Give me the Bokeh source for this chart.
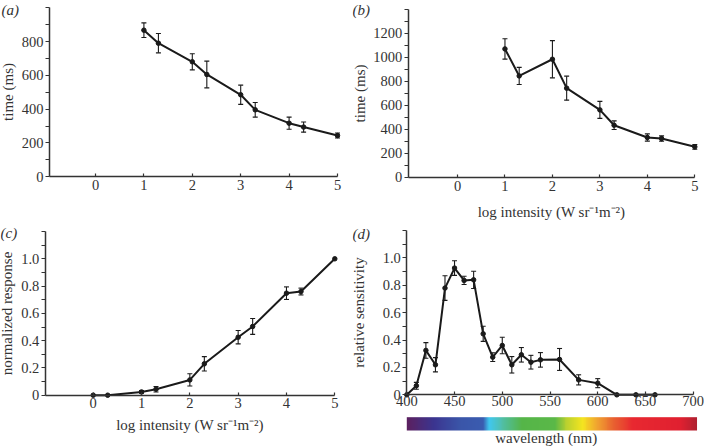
import numpy as np
from bokeh.plotting import figure
from bokeh.layouts import column, row
from bokeh.models import (FixedTicker, Whisker, TeeHead, ColumnDataSource, Range1d,
                          CustomJSTickFormatter)
from bokeh.embed import file_html
from bokeh.resources import INLINE
from bokeh.core.properties import value

# ---------------- data ----------------
int_ab = [1, 1.3, 2, 2.3, 3, 3.3, 4, 4.3, 5]
time_a = [867, 790, 680, 605, 485, 396, 317, 294, 244]
err_a = [43, 57, 48, 79, 57, 43, 36, 30, 15]
time_b = [1069, 844, 983, 742, 561, 433, 331, 322, 253]
err_b = [85, 71, 155, 100, 71, 36, 30, 22, 20]

int_c = [0, 0.3, 1, 1.3, 2, 2.3, 3, 3.3, 4, 4.3, 5]
resp_c = [0, 0, 0.024, 0.044, 0.112, 0.23, 0.425, 0.504, 0.748, 0.76, 1.0]
err_c = [0, 0, 0.01, 0.02, 0.045, 0.053, 0.049, 0.058, 0.046, 0.025, 0]

wl_d = [400, 410, 420, 430, 440, 450, 460, 470, 480, 490, 500, 510, 520, 530,
        540, 560, 580, 600, 620, 640, 660]
sens_d = [0, 0.066, 0.324, 0.219, 0.779, 0.925, 0.835, 0.839, 0.445, 0.275,
          0.36, 0.219, 0.292, 0.238, 0.255, 0.258, 0.109, 0.085, 0, 0, 0]
err_d = [0, 0.025, 0.057, 0.052, 0.09, 0.053, 0.03, 0.063, 0.055, 0.032,
         0.06, 0.06, 0.053, 0.05, 0.053, 0.08, 0.037, 0.033, 0, 0, 0]

xticks_int = [0, 1, 2, 3, 4, 5]
xticks_wl = [400, 450, 500, 550, 600, 650, 700]
yticks_a = [0, 200, 400, 600, 800]
yminor_a = [100, 300, 500, 700, 900, 1000]
yticks_b = [0, 200, 400, 600, 800, 1000, 1200]
yminor_b = [100, 300, 500, 700, 900, 1100, 1300, 1400]
yticks_frac = [0, 0.2, 0.4, 0.6, 0.8, 1.0]
yminor_frac = [0.1, 0.3, 0.5, 0.7, 0.9, 1.1, 1.2]

# spectrum colour bar stops
spec_nm = [400, 428, 455, 480, 486, 498, 520, 555, 567, 584, 600, 617, 637, 687, 704]
spec_col = ["#5c2060", "#3b3590", "#3a55a8", "#3a5cb0", "#40c8f0", "#50c0b0",
            "#55b548", "#5ab848", "#b8d030", "#f5e520", "#f0a030", "#e86030",
            "#e82830", "#e02030", "#b02030"]

FONT = "Liberation Serif"
INK = "#1a1a1a"
AX = "#333333"
XLAB = "log intensity (W sr\u207b\u00b9m\u207b\u00b2)"


class Map:
    """pixel <-> data mapping for a figure whose frame fills the whole canvas"""
    def __init__(self, w, h, xp0, xv0, xp1, xv1, yp0, yv0, yp1, yv1):
        self.sx = (xv1 - xv0) / (xp1 - xp0)
        self.xv0, self.xp0 = xv0, xp0
        self.sy = (yv1 - yv0) / (yp0 - yp1)
        self.yv0, self.yp0 = yv0, yp0
        self.w, self.h = w, h

    def x(self, px):
        return self.xv0 + (px - self.xp0) * self.sx

    def y(self, py):
        return self.yv0 + (self.yp0 - py) * self.sy

    def xr(self):
        return Range1d(self.x(0), self.x(self.w))

    def yr(self):
        return Range1d(self.y(self.h), self.y(0))


def make_panel(m, x, y, err, xbounds, ybounds, xticks, yticks, yminor, ylabel, xlabel,
               ylab_stand, xlab_stand, xtick_stand, tag, tag_px, tag_py, frac=False):
    p = figure(width=m.w, height=m.h, x_range=m.xr(), y_range=m.yr(),
               output_backend="svg", toolbar_location=None,
               min_border_left=0, min_border_right=0, min_border_top=0,
               min_border_bottom=0)
    p.outline_line_color = None
    p.grid.visible = False
    p.background_fill_color = "white"
    p.border_fill_color = "white"

    ya = p.yaxis[0]
    ya.fixed_location = xbounds[0]
    ya.ticker = FixedTicker(ticks=yticks, minor_ticks=yminor)
    ya.bounds = ybounds
    ya.major_tick_out = 4
    ya.major_tick_in = 0
    ya.minor_tick_out = 4
    ya.minor_tick_in = 0
    ya.major_label_standoff = 2
    ya.axis_label = ylabel
    ya.axis_label_standoff = ylab_stand
    if frac:
        ya.formatter = CustomJSTickFormatter(
            code="return tick == 0 ? '0' : tick.toFixed(1);")

    xa = p.xaxis[0]
    xa.fixed_location = ybounds[0]
    xa.ticker = FixedTicker(ticks=xticks, minor_ticks=[])
    xa.bounds = xbounds
    xa.major_tick_in = 3
    xa.major_tick_out = 0
    xa.major_label_standoff = xtick_stand
    if xlabel:
        xa.axis_label = xlabel
        xa.axis_label_standoff = xlab_stand

    for ax in (xa, ya):
        ax.axis_line_color = AX
        ax.axis_line_width = 1.5
        ax.major_tick_line_color = AX
        ax.minor_tick_line_color = AX
        ax.major_tick_line_width = 1.2
        ax.minor_tick_line_width = 1.2
        ax.major_label_text_font = FONT
        ax.major_label_text_font_size = "14.5px"
        ax.major_label_text_color = AX
        ax.axis_label_text_font = FONT
        ax.axis_label_text_font_size = "15px"
        ax.axis_label_text_font_style = "normal"
        ax.axis_label_text_color = AX

    ex = [a for a, e in zip(x, err) if e > 0]
    ey = [b for b, e in zip(y, err) if e > 0]
    ee = [e for e in err if e > 0]
    src = ColumnDataSource(dict(x=ex, upper=[b + e for b, e in zip(ey, ee)],
                                lower=[b - e for b, e in zip(ey, ee)]))
    wk = Whisker(source=src, base="x", upper="upper", lower="lower",
                 line_color=INK, line_width=1.1,
                 upper_head=TeeHead(size=5, line_color=INK, line_width=1.1),
                 lower_head=TeeHead(size=5, line_color=INK, line_width=1.1))
    p.add_layout(wk)

    p.line(x, y, line_color=INK, line_width=2)
    p.scatter(x, y, size=4.5, color=INK)

    p.text(x=[m.x(tag_px)], y=[m.y(tag_py)], text=[tag], text_font=value(FONT),
           text_font_size="15px", text_font_style="italic", text_color=AX,
           text_align="left", text_baseline="middle")
    return p


# pixel anchors (figure-local) for each panel
ma = Map(352, 220, 95.0, 0, 337.0, 5, 176.3, 0, 41.0, 800)
mb = Map(352, 220, 105.0, 0, 342.3, 5, 176.7, 0, 32.7, 1200)
mc = Map(352, 226, 92.7, 0, 334.3, 5, 174.7, 0, 38.3, 1.0)
md = Map(352, 226, 54.3, 400, 340.7, 700, 174.3, 0, 37.3, 1.0)

pa = make_panel(ma, int_ab, time_a, err_a, (-0.95, 5), (0, 1000), xticks_int,
                yticks_a, yminor_a, "time (ms)", None, 3, 0, 3, "(a)", 1, 9)
pb = make_panel(mb, int_ab, time_b, err_b, (-1.04, 5), (0, 1400), xticks_int,
                yticks_b, yminor_b, "time (ms)", XLAB, 3, 9, 4, "(b)", 0, 9)
pc = make_panel(mc, int_c, resp_c, err_c, (-0.99, 5), (0, 1.2), xticks_int,
                yticks_frac, yminor_frac, "normalized response", XLAB, 3, 5, 3,
                "(c)", 0, 12.5, frac=True)
pd_ = make_panel(md, wl_d, sens_d, err_d, (400, 700), (0, 1.2), xticks_wl,
                 yticks_frac, yminor_frac, "relative sensitivity", None, 12, 0, 1,
                 "(d)", 0, 13, frac=True)

# spectrum colour bar under panel (d)
stops = np.array(spec_nm, dtype=float)
rgb = np.array([[int(c[i:i + 2], 16) for i in (1, 3, 5)] for c in spec_col], dtype=float)
wgrid = np.linspace(400, 704, 304)
img = np.empty((1, wgrid.size), dtype=np.uint32)
view = img.view(dtype=np.uint8).reshape((1, wgrid.size, 4))
for k in range(3):
    view[0, :, k] = np.round(np.interp(wgrid, stops, rgb[:, k])).astype(np.uint8)
view[0, :, 3] = 255
bar_top, bar_bot = md.y(196.7), md.y(210.0)
pd_.image_rgba(image=[img], x=400, y=bar_bot, dw=304, dh=bar_top - bar_bot)
pd_.text(x=[546], y=[md.y(217.0)], text=["wavelength (nm)"], text_font=value(FONT),
         text_font_size="15px", text_color=AX, text_align="center",
         text_baseline="middle")

layout = column(row(pa, pb), row(pc, pd_))

open("out.html", "w").write(file_html(layout, INLINE))
